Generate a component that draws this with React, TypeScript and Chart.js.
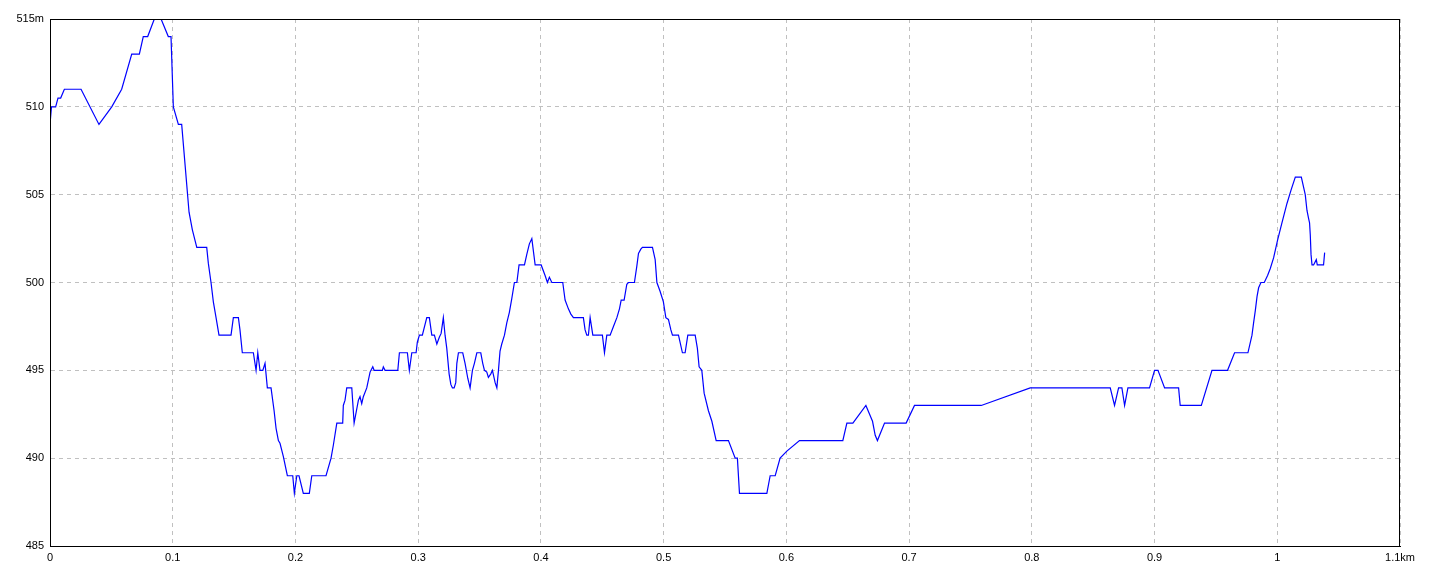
import React, { useEffect, useRef } from "react";
import { Chart, registerables } from "chart.js";

Chart.register(...registerables);

// distance along track (km)
const distanceKm: number[] = [
  0, 0.0012, 0.0046, 0.0065, 0.0087, 0.0117, 0.0253, 0.0399, 0.0503, 0.0584,
  0.0666, 0.0728, 0.076, 0.0796, 0.085, 0.0905, 0.0964, 0.0986, 0.1005, 0.1046,
  0.1073, 0.1133, 0.116, 0.1196, 0.1277, 0.129, 0.1312, 0.1331, 0.1353, 0.1377,
  0.1475, 0.1494, 0.1535, 0.1548, 0.1567, 0.1657, 0.1679, 0.1693, 0.1711, 0.1734,
  0.1752, 0.1771, 0.1801, 0.1826, 0.1842, 0.1861, 0.1874, 0.1901, 0.1934, 0.1978,
  0.1991, 0.2011, 0.2029, 0.2064, 0.2113, 0.2133, 0.2249, 0.229, 0.2309, 0.2337,
  0.2385, 0.239, 0.2404, 0.2418, 0.2459, 0.2478, 0.2513, 0.2526, 0.254, 0.2553,
  0.2581, 0.2608, 0.263, 0.2641, 0.2708, 0.2716, 0.273, 0.2834, 0.2847, 0.2912,
  0.2928, 0.2948, 0.2983, 0.2993, 0.301, 0.3034, 0.307, 0.3091, 0.3111, 0.3132,
  0.3152, 0.3173, 0.3187, 0.3205, 0.3219, 0.3233, 0.3252, 0.3266, 0.3279, 0.3293,
  0.3306, 0.3315, 0.3328, 0.3363, 0.3382, 0.3404, 0.3423, 0.3442, 0.3458, 0.3478,
  0.351, 0.3526, 0.354, 0.3559, 0.3572, 0.3592, 0.3605, 0.3627, 0.3641, 0.3654,
  0.3667, 0.3681, 0.3703, 0.3722, 0.3743, 0.3763, 0.3784, 0.3804, 0.3822, 0.3866,
  0.3885, 0.3906, 0.3926, 0.3953, 0.4002, 0.4034, 0.4053, 0.4069, 0.4089, 0.4178,
  0.4197, 0.4224, 0.4244, 0.4265, 0.4346, 0.436, 0.4374, 0.4387, 0.4401, 0.4423,
  0.4501, 0.4518, 0.4537, 0.4564, 0.4591, 0.4619, 0.464, 0.4654, 0.4678, 0.47,
  0.4713, 0.4762, 0.4781, 0.4795, 0.4814, 0.4827, 0.4909, 0.4931, 0.4945, 0.4971,
  0.4998, 0.5018, 0.5039, 0.5059, 0.5072, 0.5121, 0.5153, 0.5175, 0.5197, 0.5257,
  0.5275, 0.5289, 0.5311, 0.533, 0.5365, 0.5393, 0.5428, 0.5528, 0.5583, 0.5601,
  0.5618, 0.5841, 0.5868, 0.5909, 0.5949, 0.6004, 0.6107, 0.646, 0.6493, 0.6542,
  0.6648, 0.6702, 0.6724, 0.6742, 0.68, 0.6976, 0.7044, 0.7588, 0.7987, 0.8639,
  0.8674, 0.8707, 0.8734, 0.8756, 0.8783, 0.8959, 0.9, 0.9028, 0.9082, 0.9196,
  0.9209, 0.9381, 0.9468, 0.9595, 0.9652, 0.9761, 0.9794, 0.9807, 0.9821, 0.9835,
  0.9848, 0.9867, 0.9894, 0.9921, 0.9943, 0.997, 1.0002, 1.0038, 1.0079, 1.0114,
  1.0147, 1.0196, 1.0228, 1.0242, 1.0255, 1.0263, 1.0269, 1.0275, 1.0283, 1.0296,
  1.0318, 1.0326, 1.0377, 1.0386,
];

// elevation (m)
const elevationM: number[] = [
  509, 510, 510, 510.5, 510.5, 511, 511, 509, 510, 511,
  513, 513, 514, 514, 515, 515, 514, 514, 510, 509,
  509, 504, 503, 502, 502, 501.1, 500, 498.9, 498, 497,
  497, 498, 498, 497.3, 496, 496, 495, 496, 495, 495,
  495.4, 494, 494, 492.7, 491.7, 491, 490.85, 490.1, 489, 489,
  488, 489, 489, 488, 488, 489, 489, 490, 490.75, 492,
  492, 493, 493.3, 494, 494, 492, 493.3, 493.5, 493.1, 493.5,
  494, 494.9, 495.2, 495, 495, 495.2, 495, 495, 496, 496,
  495, 496, 496, 496.6, 497, 497, 498, 498, 497, 497,
  496.5, 496.9, 497.1, 498, 497, 496.25, 494.8, 494.2, 494, 494,
  494.3, 495.4, 496, 496, 495.4, 494.55, 494, 495, 495.4, 496,
  496, 495.4, 495, 494.9, 494.6, 494.8, 495, 494.3, 494, 495,
  496.1, 496.5, 497, 497.7, 498.3, 499.1, 500, 500, 501, 501,
  501.6, 502.2, 502.5, 501, 501, 500.4, 500, 500.3, 500, 500,
  499, 498.5, 498.2, 498, 498, 497.3, 497, 497, 498, 497,
  497, 496, 497, 497, 497.5, 498, 498.5, 499, 499, 499.9,
  500, 500, 500.9, 501.65, 501.9, 502, 502, 501.3, 500, 499.5,
  498.9, 498, 497.9, 497.3, 497, 497, 496, 496, 497, 497,
  496.25, 495.2, 495, 493.7, 492.7, 492.1, 491, 491, 490, 490,
  488, 488, 489, 489, 490, 490.4, 491, 491, 492, 492,
  493, 492.1, 491.3, 491, 492, 492, 493, 493, 494, 494,
  493, 494, 494, 493, 494, 494, 495, 495, 494, 494,
  493, 493, 495, 495, 496, 496, 497, 497.7, 498.4, 499.2,
  499.7, 500, 500, 500.4, 500.8, 501.4, 502.4, 503.4, 504.5, 505.3,
  506, 506, 505, 504.1, 503.65, 503.4, 502.7, 501.6, 501, 501,
  501.3, 501, 501, 501.7,
];

const xTickValues: number[] = [0, 0.1, 0.2, 0.3, 0.4, 0.5, 0.6, 0.7, 0.8, 0.9, 1, 1.1];
const xTickLabels: string[] = ["0", "0.1", "0.2", "0.3", "0.4", "0.5", "0.6", "0.7", "0.8", "0.9", "1", "1.1km"];
const yTickValues: number[] = [485, 490, 495, 500, 505, 510, 515];
const yTickLabels: string[] = ["485", "490", "495", "500", "505", "510", "515m"];

const frame = {
  id: "frame",
  afterDraw(chart: any) {
    const { ctx, chartArea } = chart;
    ctx.save();
    ctx.strokeStyle = "#000000";
    ctx.lineWidth = 1;
    ctx.setLineDash([]);
    ctx.strokeRect(
      Math.round(chartArea.left) + 0.5,
      Math.round(chartArea.top) + 0.5,
      Math.round(chartArea.right - chartArea.left) - 1,
      Math.round(chartArea.bottom - chartArea.top)
    );
    ctx.restore();
  },
};

export default function App() {
  const ref = useRef<HTMLCanvasElement | null>(null);

  useEffect(() => {
    if (!ref.current) return;
    const points = distanceKm.map((d, i) => ({ x: d, y: elevationM[i] }));
    const font = { family: "'Liberation Sans', Arial, sans-serif", size: 11 };
    const chart = new Chart(ref.current, {
      type: "line",
      data: {
        datasets: [
          {
            data: points,
            borderColor: "#0000ff",
            borderWidth: 1.2,
            pointRadius: 0,
            tension: 0,
            fill: false,
          },
        ],
      },
      options: {
        animation: false,
        responsive: false,
        devicePixelRatio: 1,
        events: [],
        layout: { padding: { left: 0, top: 19, right: 40, bottom: 0 } },
        plugins: { legend: { display: false }, tooltip: { enabled: false } },
        scales: {
          x: {
            type: "linear",
            min: 0,
            max: 1.1,
            afterBuildTicks: (scale: any) => {
              scale.ticks = xTickValues.map((v) => ({ value: v }));
            },
            afterFit: (scale: any) => {
              scale.height = 30;
            },
            ticks: {
              autoSkip: false,
              maxRotation: 0,
              padding: 5,
              color: "#000000",
              font,
              callback: (_v: any, i: number) => xTickLabels[i],
            },
            grid: {
              color: "#c0c0c0",
              lineWidth: 1,
              drawTicks: false,
              tickLength: 0,
            },
            border: { display: true, color: "#000000", dash: [4, 4] as any },
          } as any,
          y: {
            type: "linear",
            min: 485,
            max: 515,
            afterBuildTicks: (scale: any) => {
              scale.ticks = yTickValues.map((v) => ({ value: v }));
            },
            afterFit: (scale: any) => {
              scale.width = 50;
            },
            ticks: {
              autoSkip: false,
              padding: 6,
              color: "#000000",
              font,
              callback: (_v: any, i: number) => yTickLabels[i],
            },
            grid: {
              color: "#c0c0c0",
              lineWidth: 1,
              drawTicks: false,
              tickLength: 0,
            },
            border: { display: true, color: "#000000", dash: [4, 4] as any },
          } as any,
        },
      },
      plugins: [frame],
    });
    return () => chart.destroy();
  }, []);

  return (
    <div style={{ position: "absolute", left: 0, top: 0, width: 1440, height: 576, background: "#ffffff" }}>
      <canvas ref={ref} width={1440} height={576} style={{ width: 1440, height: 576, display: "block" }} />
    </div>
  );
}
